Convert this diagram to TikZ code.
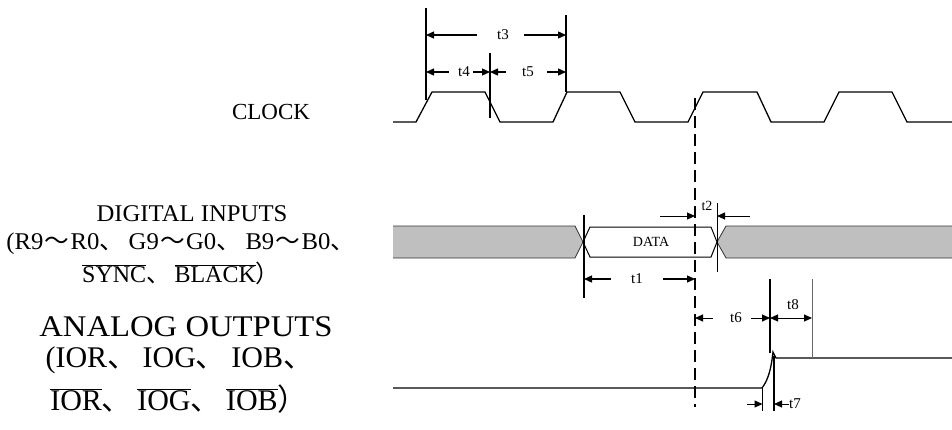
\documentclass[tikz,border=0pt]{standalone}
\usepackage{fontspec}
\usepackage{graphicx}
\setmainfont{Liberation Serif}
\newfontfamily\cjk{Noto Sans CJK SC}
\usetikzlibrary{arrows.meta}
\newcommand\mydun{\makebox[1.18em][l]{\cjk 、}}
\newcommand\mytld{\makebox[1.1em][c]{\cjk ～}}
\newcommand\myrp{{\cjk ）}}
\newcommand\ovl[1]{$\overline{\mbox{#1}}$}
\begin{document}
\begin{tikzpicture}[x=1pt,y=-1pt,
  wave/.style={line width=1.3pt,line join=miter},
  vmark/.style={line width=1.3pt},
  thinvmark/.style={line width=0.9pt,black!60},
  dim/.style={line width=1.3pt,-{Triangle[length=8pt,width=7pt]}},
  dimdouble/.style={line width=1.1pt,{Triangle[length=8pt,width=7pt]}-{Triangle[length=8pt,width=7pt]}},
  tlab/.style={font=\fontsize{15}{17}\selectfont,inner sep=0pt},
  lab/.style={inner sep=0pt,anchor=center},
  graybar/.style={fill=black!25,draw=none},
  grayedge/.style={line width=0.8pt,black!80},
  dashline/.style={line width=1.3pt,dash pattern=on 12pt off 6pt}]
\useasboundingbox (0,0) rectangle (952,429);

% ---------- left labels ----------
\node[lab,font=\fontsize{23}{26}\selectfont] (clk) at (271,112) {CLOCK};
\node[lab,font=\fontsize{24}{27}\selectfont] (di1) at (192,214) {\scalebox{1.03}[1]{DIGITAL INPUTS}};
\node[lab,font=\fontsize{24}{27}\selectfont] (di2) at (183,244) {\scalebox{1.03}[1]{(R9\mytld R0\mydun G9\mytld G0\mydun B9\mytld B0\mydun}};
\node[lab,font=\fontsize{24}{27}\selectfont] (di3) at (181,273) {\ovl{SYNC}\mydun\ovl{BLACK}\myrp};
\node[lab,font=\fontsize{30}{33}\selectfont,text height=20pt,text depth=0pt] (ao1) at (186,326) {\scalebox{1.09}[1]{ANALOG OUTPUTS}};
\node[lab,font=\fontsize{30}{33}\selectfont,text height=20pt,text depth=4pt] (ao2) at (182,359) {(IOR\mydun IOG\mydun IOB\mydun};
\node[lab,font=\fontsize{30}{33}\selectfont] (ao3) at (179,399) {\ovl{IOR}\mydun\ovl{IOG}\mydun\ovl{IOB}\myrp};

% ---------- clock waveform ----------
\draw[wave] (393,122) -- (416,122) -- (432,92) -- (485,92) -- (500,122) -- (553,122)
  -- (567,92) -- (620,92) -- (635,122) -- (688,122) -- (703,92) -- (757,92)
  -- (771,122) -- (824,122) -- (839,92) -- (892,92) -- (907,122) -- (952,122);

% clock markers
\coordinate (m1t) at (426,8);   \coordinate (m1b) at (426,100);
\coordinate (m2t) at (490,53);  \coordinate (m2b) at (490,118);
\coordinate (m3t) at (566,15);  \coordinate (m3b) at (566,92);
\draw[vmark] (m1t) -- (m1b);
\draw[vmark] (m2t) -- (m2b);
\draw[vmark] (m3t) -- (m3b);

% t3
\node[tlab] (t3) at (503,35) {t3};
\coordinate (t3l) at (426,35); \coordinate (t3r) at (566,35);
\draw[dim] (t3.west) ++(-20,0) -- (t3l);
\draw[dim] (t3.east) ++(15,0) -- (t3r);
% t4
\node[tlab] (t4) at (464,72) {t4};
\coordinate (t4l) at (426,72); \coordinate (t4r) at (490,72);
\draw[dim] (t4.west) ++(-9,0) -- (t4l);
\draw[dim] (t4.east) ++(3,0) -- (t4r);
% t5
\node[tlab] (t5) at (528,72) {t5};
\coordinate (t5l) at (490,72); \coordinate (t5r) at (566,72);
\draw[dim] (t5.west) ++(-16,0) -- (t5l);
\draw[dim] (t5.east) ++(13,0) -- (t5r);

% ---------- dashed reference line ----------
\coordinate (dt) at (695,98); \coordinate (db) at (695,407);
\draw[dashline] (dt) -- (db);

% ---------- digital inputs bus ----------
\fill[graybar] (393,226) -- (575,226) -- (583,242) -- (575,258) -- (393,258) -- cycle;
\draw[grayedge] (393,226) -- (575,226) -- (583,242) -- (575,258) -- (393,258);
\fill[graybar] (952,226) -- (726,226) -- (717,242) -- (726,258) -- (952,258) -- cycle;
\draw[grayedge] (952,226) -- (726,226) -- (717,242) -- (726,258) -- (952,258);
\draw[line width=1pt] (583,242) -- (590,227) -- (711,227) -- (717,242) -- (711,257) -- (590,257) -- cycle;
\node[lab,font=\fontsize{14}{16}\selectfont] (data) at (651,242) {DATA};

\coordinate (v1t) at (584,215); \coordinate (v1b) at (584,298);
\coordinate (v2t) at (717,203); \coordinate (v2b) at (717,272);
\draw[vmark] (v1t) -- (v1b);
\draw[line width=1pt] (v2t) -- (v2b);

% t1
\node[tlab] (t1) at (637,279) {t1};
\coordinate (t1l) at (584,279); \coordinate (t1r) at (695,279);
\draw[dim] (t1.west) ++(-20,0) -- (t1l);
\draw[dim] (t1.east) ++(20,0) -- (t1r);
% t2
\node[tlab,font=\fontsize{14}{16}\selectfont] (t2) at (707,206) {t2};
\coordinate (t2l) at (695,216); \coordinate (t2r) at (717,216);
\coordinate (t2a) at (660,216); \coordinate (t2b) at (750,216);
\draw[dim,line width=1pt] (t2a) -- (t2l);
\draw[dim,line width=1pt] (t2b) -- (t2r);

% ---------- analog output ----------
\draw[wave] (393,388) -- (762,388) .. controls (768,380) and (771,370) .. (773,352)
  -- (776,358) -- (952,358);

\coordinate (a1t) at (770,279); \coordinate (a1b) at (770,353);
\coordinate (a2t) at (812,279); \coordinate (a2b) at (812,358);
\draw[vmark] (a1t) -- (a1b);
\draw[thinvmark] (a2t) -- (a2b);

% t6
\node[tlab] (t6) at (736,318) {t6};
\coordinate (t6l) at (695,318); \coordinate (t6r) at (770,318);
\draw[dim,line width=1pt] (t6.west) ++(-17,0) -- (t6l);
\draw[dim,line width=1pt] (t6.east) ++(9,0) -- (t6r);
% t8
\node[tlab] (t8) at (793,305) {t8};
\coordinate (t8l) at (770,318); \coordinate (t8r) at (812,318);
\draw[dimdouble,line width=1pt] (t8l) -- (t8r);

% t7
\coordinate (b1t) at (762.5,388); \coordinate (b1b) at (762.5,411);
\coordinate (b2t) at (774,356); \coordinate (b2b) at (774,411);
\draw[vmark] (b1t) -- (b1b);
\draw[vmark] (b2t) -- (b2b);
\node[tlab,anchor=west] (t7) at (789,404) {t7};
\coordinate (t7l) at (762.5,404); \coordinate (t7r) at (774,404);
\draw[dim,line width=1pt] (747,404) -- (t7l);
\draw[dim,line width=1pt] (t7.west) -- (t7r);
\end{tikzpicture}
\end{document}
